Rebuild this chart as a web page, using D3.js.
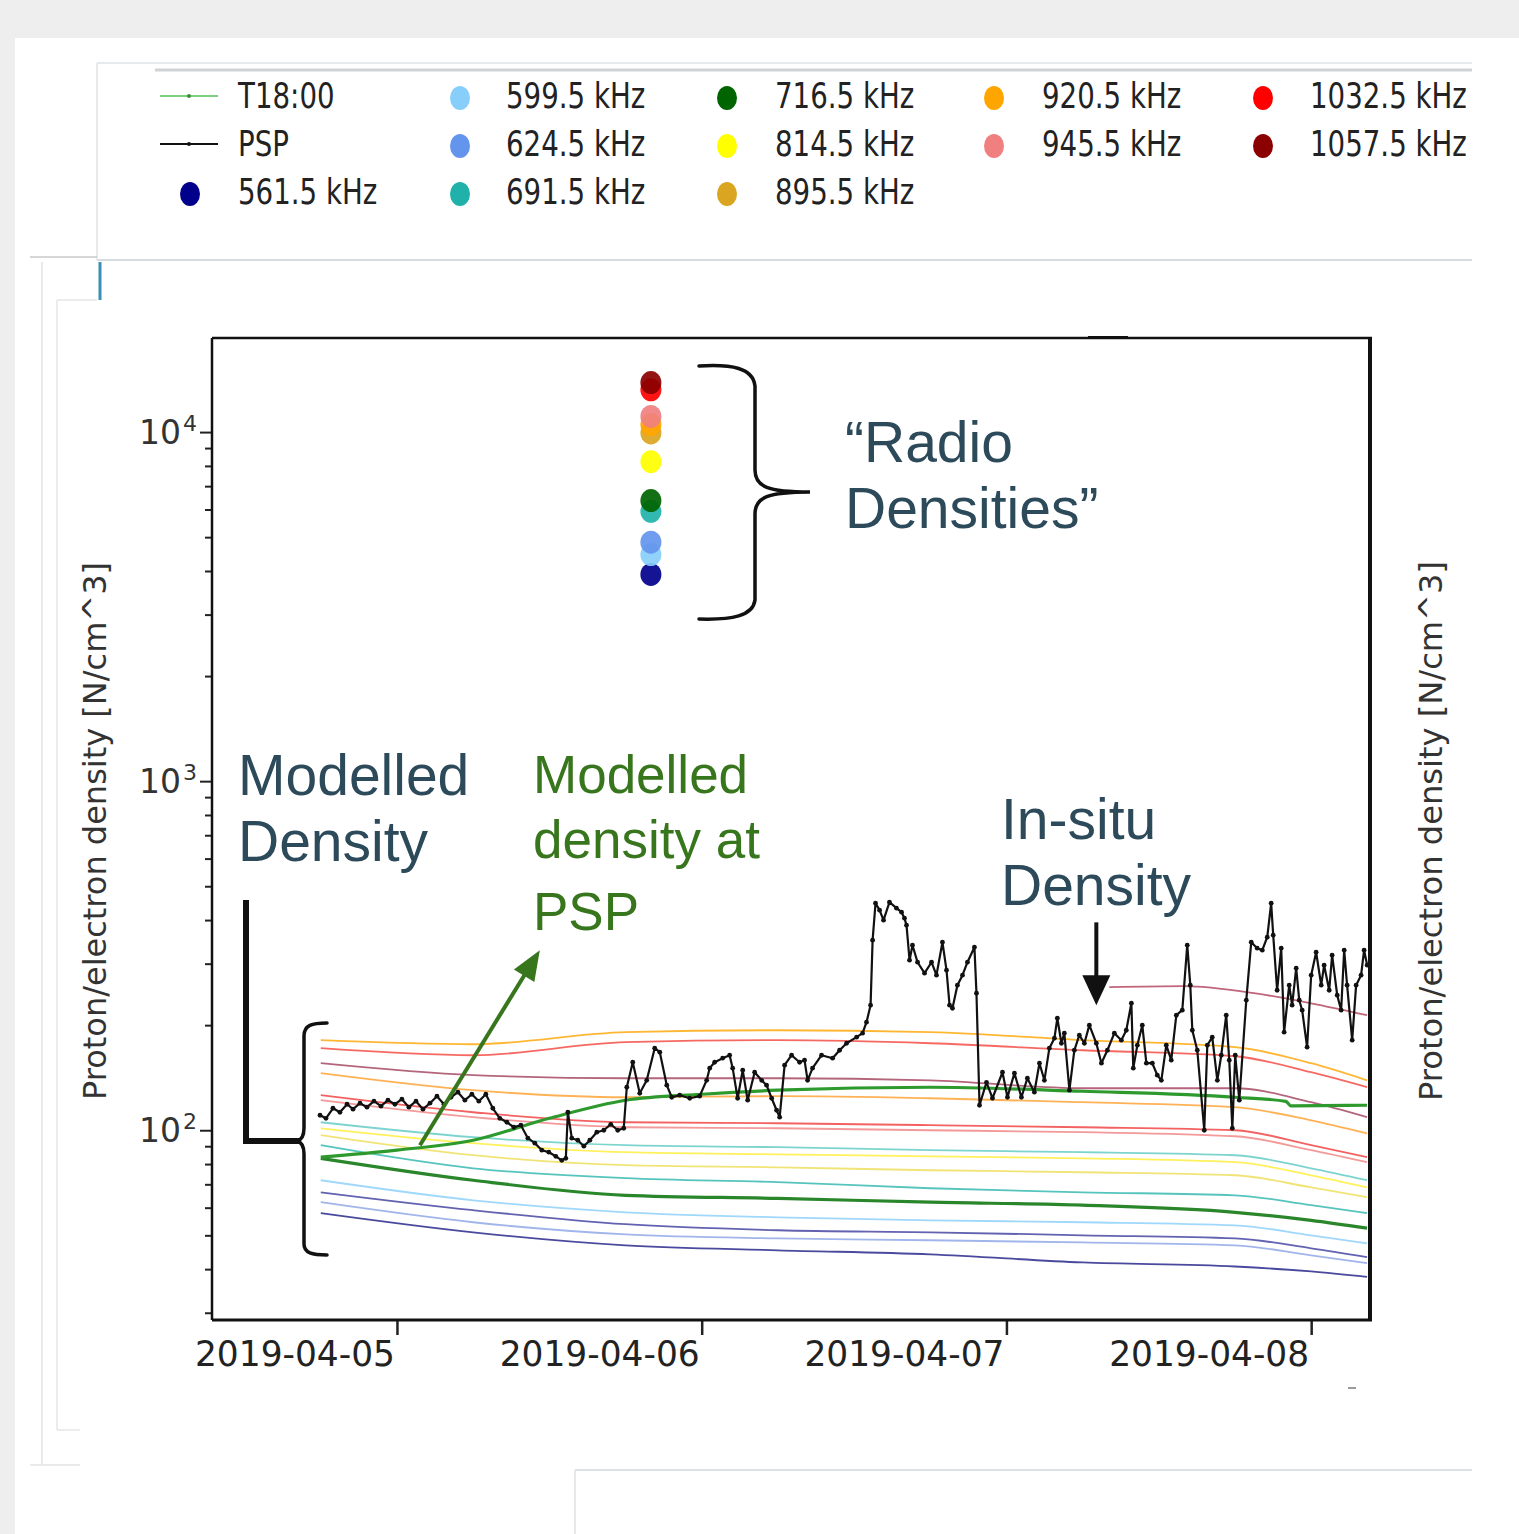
<!DOCTYPE html>
<html>
<head>
<meta charset="utf-8">
<title>Proton/electron density – radio, modelled and in-situ</title>
<script src="https://cdn.jsdelivr.net/npm/d3@7"></script>
<style>
  html, body { margin: 0; padding: 0; background: #eeeeee; }
  svg { display: block; }
</style>
</head>
<body>
<svg id="chart" width="1519" height="1534"></svg>
<script>
// ---------------------------------------------------------------------------
// Data
// ---------------------------------------------------------------------------

// Radio frequencies (legend order) and their colours
const freqLabels = ["561.5 kHz", "599.5 kHz", "624.5 kHz", "691.5 kHz", "716.5 kHz",
  "814.5 kHz", "895.5 kHz", "920.5 kHz", "945.5 kHz", "1032.5 kHz", "1057.5 kHz"];
const freqColors = ["#00008b", "#87cefa", "#6495ed", "#20b2aa", "#006400",
  "#ffff00", "#daa520", "#ffa500", "#f08080", "#ff0000", "#8b0000"];

// "Radio densities" (cm^-3), one per frequency, observed at 2019-04-05 20:00
const radioHour = 20;
const radioDensity = [3910, 4457, 4836, 5930, 6366, 8227, 9944, 10507, 11086, 13220, 13868];

// Modelled density profiles: knot times in hours after 2019-04-05 00:00
const modelHours = [-6, 6, 18, 30, 42, 54, 66, 72, 76.4];
const modelColors = ["#ffa500", "#f4433c", "#a0405a", "#ff9f2a", "#f03a3a", "#f08080",
  "#5cc9c2", "#ffee33", "#eedd55", "#2bb5ac", "#1f7f1f", "#87cefa", "#3b3b9e", "#8aa2e6", "#1c1c85"];
const modelValues = [
  [181.1, 176.3, 190.9, 193.4, 190.9, 181.1, 172.9, 155.6, 139.0],
  [171.8, 164.0, 178.7, 181.1, 177.5, 169.5, 162.9, 146.6, 132.8],
  [155.6, 143.8, 140.9, 140.9, 139.0, 131.9, 131.9, 120.3, 109.0],
  [145.7, 130.2, 124.3, 125.2, 123.5, 120.3, 116.4, 106.8, 98.0],
  [126.0, 112.6, 105.4, 104.7, 103.4, 102.0, 100.0, 90.6, 83.7],
  [121.9, 109.0, 102.0, 101.3, 100.0, 98.7, 96.1, 87.7, 81.0],
  [105.4, 95.5, 90.6, 89.4, 87.7, 86.5, 84.8, 77.8, 71.9],
  [101.3, 91.8, 86.5, 85.3, 84.2, 83.1, 81.0, 74.3, 68.6],
  [96.8, 84.8, 79.4, 78.3, 76.8, 75.8, 74.3, 68.6, 64.3],
  [90.6, 77.8, 72.9, 71.0, 68.2, 66.4, 65.1, 61.0, 57.9],
  [83.1, 71.9, 65.1, 63.8, 62.2, 61.0, 58.2, 55.2, 52.4],
  [71.9, 63.0, 58.2, 56.3, 55.2, 54.5, 53.4, 50.0, 47.4],
  [66.4, 59.0, 53.8, 51.7, 51.0, 50.0, 49.0, 45.9, 43.3],
  [62.2, 54.5, 50.3, 49.0, 48.4, 47.7, 46.8, 43.8, 41.6],
  [57.9, 51.0, 46.8, 45.3, 44.1, 41.8, 40.7, 39.4, 38.0]
];

// Late-starting profile
const lateHours = [56.1, 62, 67.5, 72, 76.4];
const lateValues = [256.9, 258.6, 247.0, 231.0, 213.6];

// Modelled density at the spacecraft (T18:00)
const pspModelHours = [-6, 0, 6, 12, 18, 24, 30, 42, 54, 66, 70, 70.4, 76.4];
const pspModelValues = [83.7, 87.7, 93.6, 108.2, 121.9, 126.8, 130.2, 132.8, 129.3, 124.3, 121.0, 117.5, 117.9];

// In-situ density measured by PSP
const pspHours = [
  -6.06, -5.59, -5.04, -4.49, -3.93, -3.46, -2.91, -2.36, -1.81, -1.26, -0.71, -0.16,
  0.39, 0.94, 1.50, 2.05, 2.60, 3.15, 3.70, 4.25, 4.80, 5.35, 5.90, 6.45,
  7.00, 7.55, 8.10, 8.66, 9.21, 9.76, 10.31, 10.86, 11.41, 11.96, 12.51, 12.98,
  13.30, 13.46, 13.77, 14.24, 14.72, 15.19, 15.74, 16.29, 16.84, 17.39, 17.86, 18.10,
  18.57, 19.12, 19.67, 20.30, 20.70, 21.25, 21.64, 22.27, 23.06, 23.84, 24.39, 24.63,
  25.02, 25.65, 26.20, 26.44, 26.83, 27.23, 27.62, 28.17, 28.72, 29.11, 29.51, 29.90,
  30.14, 30.53, 31.08, 31.71, 32.10, 32.34, 32.73, 33.44, 34.31, 34.86, 35.41, 36.20,
  36.67, 36.98, 37.30, 37.46, 37.69, 38.01, 38.32, 38.79, 39.34, 39.74, 39.97, 40.13,
  40.37, 40.60, 41.00, 41.55, 42.10, 42.49, 42.96, 43.28, 43.52, 43.75, 44.14, 44.54,
  44.93, 45.48, 45.64, 45.88, 46.43, 46.90, 47.69, 48.08, 48.63, 49.18, 49.65, 50.20,
  50.60, 50.99, 51.38, 51.78, 52.01, 52.33, 52.56, 52.96, 53.35, 53.74, 54.14, 54.53,
  55.08, 55.48, 55.95, 56.50, 57.05, 57.44, 57.84, 57.99, 58.31, 58.70, 59.02, 59.49,
  59.88, 60.20, 60.59, 60.98, 61.38, 61.85, 62.24, 62.48, 62.64, 63.03, 63.58, 63.82,
  64.21, 64.61, 64.92, 65.31, 65.55, 65.79, 66.02, 66.34, 66.89, 67.28, 67.75, 68.15,
  68.54, 68.85, 69.01, 69.32, 69.64, 69.87, 70.27, 70.50, 70.82, 71.06, 71.29, 71.68,
  72.00, 72.39, 72.79, 73.02, 73.42, 73.65, 74.05, 74.36, 74.60, 74.83, 75.23, 75.54,
  75.93, 76.17, 76.41
];
const pspDensity = [
  110.4, 108.2, 115.6, 112.6, 118.7, 114.9, 119.5, 116.4, 121.1, 117.2, 121.9, 118.7,
  122.7, 116.4, 121.1, 114.9, 119.5, 125.2, 118.7, 124.3, 128.5, 121.9, 126.8, 121.1,
  126.8, 115.6, 108.2, 105.4, 102.0, 103.4, 94.9, 91.8, 87.7, 86.5, 84.2, 82.0,
  83.1, 112.6, 94.9, 93.6, 90.0, 93.6, 98.7, 100.0, 104.0, 100.0, 101.3, 132.8,
  156.6, 127.6, 139.0, 171.8, 167.3, 134.6, 124.3, 126.0, 123.5, 125.2, 139.0, 150.6,
  156.6, 160.8, 164.0, 150.6, 123.5, 148.6, 121.9, 146.6, 139.0, 134.6, 123.5, 114.1,
  109.0, 153.6, 164.0, 156.6, 158.7, 139.0, 150.6, 164.0, 160.8, 169.5, 177.5, 184.8,
  189.7, 203.9, 228.2, 350.3, 447.0, 427.0, 399.7, 450.1, 432.6, 421.4, 405.0, 386.8,
  307.0, 338.9, 302.9, 281.8, 302.9, 278.1, 345.7, 287.4, 228.2, 223.6, 260.3, 278.1,
  302.9, 334.5, 247.0, 117.9, 137.2, 123.5, 146.6, 124.3, 145.7, 124.3, 140.9, 128.5,
  155.6, 139.0, 171.8, 183.5, 209.4, 177.5, 189.7, 130.2, 169.5, 187.2, 177.5, 200.0,
  177.5, 155.6, 169.5, 189.7, 181.1, 193.4, 231.2, 150.6, 175.2, 200.0, 155.6, 155.6,
  143.8, 139.0, 175.2, 158.7, 213.6, 220.7, 338.9, 260.3, 193.4, 169.5, 100.0, 175.2,
  184.8, 139.0, 164.0, 213.6, 158.7, 101.3, 164.0, 121.9, 235.8, 345.7, 332.3, 328.0,
  357.3, 447.0, 362.1, 251.8, 332.3, 190.9, 260.3, 228.2, 291.2, 235.8, 220.7, 172.9,
  278.1, 323.6, 260.3, 297.0, 251.8, 317.2, 243.7, 220.7, 328.0, 260.3, 181.1, 260.3,
  278.1, 328.0, 297.0
];

// Axis ticks
const yMajorTicks = [100, 1000, 10000];
const yMajorExp = ["2", "3", "4"];
const xTickDays = ["2019-04-05", "2019-04-06", "2019-04-07", "2019-04-08"];
const yLabel = "Proton/electron density [N/cm^3]";

// ---------------------------------------------------------------------------
// Scales
// ---------------------------------------------------------------------------
const W = 1519, H = 1534;
const plot = { left: 212, right: 1370, top: 338, bottom: 1320 };
const t0 = Date.UTC(2019, 3, 5);
const toDate = h => new Date(t0 + h * 3600000);

const x = d3.scaleUtc()
  .domain([new Date(Date.UTC(2019, 3, 4, 9, 26)), new Date(Date.UTC(2019, 3, 8, 4, 38))])
  .range([plot.left, plot.right]);
const y = d3.scaleLog().domain([28.6, 18600]).range([plot.bottom, plot.top]);

const svg = d3.select("#chart");
const AXIS_FONT = "'DejaVu Sans', sans-serif";
const NOTE_FONT = "'Liberation Sans', Arial, Helvetica, sans-serif";

// squeeze a text element horizontally by a factor
function squeeze(sel, factor) {
  sel.each(function () {
    const len = this.getComputedTextLength();
    d3.select(this).attr("textLength", len * factor).attr("lengthAdjust", "spacingAndGlyphs");
  });
  return sel;
}
function fitTo(sel, width) {
  sel.attr("textLength", width).attr("lengthAdjust", "spacingAndGlyphs");
  return sel;
}

// ---------------------------------------------------------------------------
// Page panels and frame lines
// ---------------------------------------------------------------------------
svg.append("rect").attr("width", W).attr("height", H).attr("fill", "#eeeeee");
svg.append("rect").attr("x", 15).attr("y", 38).attr("width", W - 15).attr("height", H - 38).attr("fill", "#ffffff");

const deco = svg.append("g").attr("fill", "none");
const segs = [
  [97, 63, 1472, 63, "#dfe3e6", 1.5],
  [155, 70, 1472, 70, "#cfd3d6", 3],
  [97, 63, 97, 260, "#dfe3e6", 1.5],
  [97, 260, 1472, 260, "#d6dde2", 2],
  [30, 257, 97, 257, "#c9c9c9", 1.5],
  [42, 262, 42, 1465, "#e3e3e3", 1.5],
  [30, 1465, 80, 1465, "#e3e3e3", 1.5],
  [57, 300, 57, 1430, "#e6e6e6", 1.5],
  [57, 300, 97, 300, "#e6e6e6", 1.5],
  [57, 1430, 80, 1430, "#e6e6e6", 1.5],
  [575, 1470, 1472, 1470, "#dde2e6", 2],
  [575, 1470, 575, 1534, "#dde2e6", 1.5]
];
segs.forEach(s => deco.append("line")
  .attr("x1", s[0]).attr("y1", s[1]).attr("x2", s[2]).attr("y2", s[3])
  .attr("stroke", s[4]).attr("stroke-width", s[5]));
deco.append("line").attr("x1", 100).attr("y1", 262).attr("x2", 100).attr("y2", 300)
  .attr("stroke", "#3a8fb7").attr("stroke-width", 3);
deco.append("rect").attr("x", 1348).attr("y", 1387).attr("width", 8).attr("height", 2).attr("fill", "#9a9a9a");

// ---------------------------------------------------------------------------
// Legend
// ---------------------------------------------------------------------------
const legendItems = [
  { label: "T18:00", kind: "line", color: "#7ccf7c", dot: "#3b8e3b" },
  { label: "PSP", kind: "line", color: "#111111", dot: "#111111" }
].concat(freqLabels.map((l, i) => ({ label: l, kind: "dot", color: freqColors[i] })));
const legendColSizes = [3, 3, 3, 2, 2];
const legendColMarkX = [189, 459, 726, 993, 1262];
const legendColTextX = [238, 506, 775, 1042, 1310];
const legendRowY = [96, 144, 192];

const legend = svg.append("g");
let idx = 0;
legendColSizes.forEach((n, c) => {
  for (let r = 0; r < n; r++, idx++) {
    const it = legendItems[idx];
    const cy = legendRowY[r];
    if (it.kind === "line") {
      legend.append("line").attr("x1", legendColMarkX[c] - 29).attr("x2", legendColMarkX[c] + 29)
        .attr("y1", cy).attr("y2", cy).attr("stroke", it.color).attr("stroke-width", 2);
      legend.append("circle").attr("cx", legendColMarkX[c]).attr("cy", cy).attr("r", 2).attr("fill", it.dot);
    } else {
      legend.append("ellipse").attr("cx", legendColMarkX[c] + 1).attr("cy", cy + 2)
        .attr("rx", 10).attr("ry", 12).attr("fill", it.color);
    }
    legend.append("text").attr("x", legendColTextX[c]).attr("y", cy + 12)
      .attr("font-family", AXIS_FONT).attr("font-size", 35).attr("fill", "#222")
      .text(it.label).call(squeeze, 0.79);
  }
});

// ---------------------------------------------------------------------------
// Axes
// ---------------------------------------------------------------------------
const yMinor = [];
[10, 100, 1000, 10000].forEach(d => {
  for (let k = 2; k <= 9; k++) {
    const v = d * k;
    if (v > y.domain()[0] && v < y.domain()[1]) yMinor.push(v);
  }
});

const yAxisMajor = svg.append("g").attr("transform", `translate(${plot.left},0)`)
  .call(d3.axisLeft(y).tickValues(yMajorTicks).tickSize(12).tickSizeOuter(0).tickFormat(""));
const yAxisMinor = svg.append("g").attr("transform", `translate(${plot.left},0)`)
  .call(d3.axisLeft(y).tickValues(yMinor).tickSize(7).tickSizeOuter(0).tickFormat(""));
[yAxisMajor, yAxisMinor].forEach(g => {
  g.select(".domain").remove();
  g.selectAll(".tick line").attr("stroke", "#222").attr("stroke-width", 2);
});

yMajorTicks.forEach((v, i) => {
  const tx = svg.append("text").attr("x", 197).attr("y", y(v) + 12)
    .attr("text-anchor", "end").attr("font-family", AXIS_FONT).attr("font-size", 33).attr("fill", "#333");
  tx.append("tspan").text("10");
  tx.append("tspan").attr("font-size", 22).attr("dy", -13).attr("dx", 2).text(yMajorExp[i]);
});

const xTicks = xTickDays.map(d => new Date(d + "T00:00:00Z"));
const xAxis = svg.append("g").attr("transform", `translate(0,${plot.bottom})`)
  .call(d3.axisBottom(x).tickValues(xTicks).tickSize(15).tickSizeOuter(0).tickFormat(""));
xAxis.select(".domain").remove();
xAxis.selectAll(".tick line").attr("stroke", "#222").attr("stroke-width", 2.5);

xTicks.forEach((d, i) => {
  svg.append("text").attr("x", x(d) - 2).attr("y", 1366).attr("text-anchor", "end")
    .attr("font-family", AXIS_FONT).attr("font-size", 35).attr("fill", "#222")
    .text(xTickDays[i]).call(fitTo, 200);
});

// axis titles
svg.append("text").attr("transform", "translate(106,831) rotate(-90)").attr("text-anchor", "middle")
  .attr("font-family", AXIS_FONT).attr("font-size", 32).attr("fill", "#333")
  .text(yLabel).call(fitTo, 538);
svg.append("text").attr("transform", "translate(1442,831) rotate(-90)").attr("text-anchor", "middle")
  .attr("font-family", AXIS_FONT).attr("font-size", 32).attr("fill", "#333")
  .text(yLabel).call(fitTo, 540);

// ---------------------------------------------------------------------------
// Series
// ---------------------------------------------------------------------------
const series = svg.append("g");
const smooth = d3.line().curve(d3.curveMonotoneX).x(d => x(toDate(d[0]))).y(d => y(d[1]));

modelValues.forEach((vals, i) => {
  const thick = modelColors[i] === "#1f7f1f";
  series.append("path")
    .attr("d", smooth(d3.zip(modelHours, vals)))
    .attr("fill", "none").attr("stroke", modelColors[i])
    .attr("stroke-width", thick ? 3.2 : 1.8).attr("stroke-opacity", thick ? 0.95 : 0.8);
});
series.append("path").attr("d", smooth(d3.zip(lateHours, lateValues)))
  .attr("fill", "none").attr("stroke", "#b0405a").attr("stroke-width", 1.8).attr("stroke-opacity", 0.8);

series.append("path").attr("d", smooth(d3.zip(pspModelHours, pspModelValues)))
  .attr("fill", "none").attr("stroke", "#2e9a2e").attr("stroke-width", 3.2);

const pspData = d3.zip(pspHours, pspDensity);
series.append("path")
  .attr("d", d3.line().x(d => x(toDate(d[0]))).y(d => y(d[1]))(pspData))
  .attr("fill", "none").attr("stroke", "#111").attr("stroke-width", 2.2).attr("stroke-linejoin", "round");
series.selectAll("circle.psp").data(pspData).join("circle").attr("class", "psp")
  .attr("cx", d => x(toDate(d[0]))).attr("cy", d => y(d[1])).attr("r", 2.4).attr("fill", "#111");

// radio densities, drawn low to high frequency
series.selectAll("ellipse.radio").data(radioDensity).join("ellipse").attr("class", "radio")
  .attr("cx", x(toDate(radioHour))).attr("cy", d => y(d))
  .attr("rx", 10.5).attr("ry", 11.5).attr("fill", (d, i) => freqColors[i]).attr("fill-opacity", 0.92);

// plot frame
const frame = svg.append("g").attr("stroke", "#111").attr("fill", "none");
frame.append("line").attr("x1", plot.left).attr("x2", plot.right + 2).attr("y1", plot.top).attr("y2", plot.top).attr("stroke-width", 2.5);
frame.append("line").attr("x1", 1088).attr("x2", 1128).attr("y1", plot.top - 1).attr("y2", plot.top - 1).attr("stroke-width", 2);
frame.append("line").attr("x1", plot.left).attr("x2", plot.left).attr("y1", plot.top).attr("y2", plot.bottom).attr("stroke-width", 2.5);
frame.append("line").attr("x1", plot.left).attr("x2", plot.right + 2).attr("y1", plot.bottom).attr("y2", plot.bottom).attr("stroke-width", 3);
frame.append("line").attr("x1", plot.right).attr("x2", plot.right).attr("y1", plot.top).attr("y2", plot.bottom + 1).attr("stroke-width", 4);

// ---------------------------------------------------------------------------
// Annotations
// ---------------------------------------------------------------------------
const notes = svg.append("g");
const SLATE = "#2c4a5a", GREEN = "#38761d";

function noteText(lines, x0, baselines, size, color) {
  lines.forEach((s, i) => notes.append("text").attr("x", x0).attr("y", baselines[i])
    .attr("font-family", NOTE_FONT).attr("font-size", size).attr("fill", color).text(s));
}
noteText(["\u201CRadio", "Densities\u201D"], 845, [462, 528], 57, SLATE);
noteText(["Modelled", "Density"], 238, [795, 861], 57, SLATE);
noteText(["Modelled", "density at", "PSP"], 533, [793, 858, 930], 53, GREEN);
noteText(["In-situ", "Density"], 1001, [839, 905], 57, SLATE);

function arrow(x1, y1, x2, y2, color, width, headLen, headHalf) {
  const dx = x2 - x1, dy = y2 - y1, L = Math.hypot(dx, dy);
  const ux = dx / L, uy = dy / L, px = -uy, py = ux;
  const bx = x2 - ux * headLen, by = y2 - uy * headLen;
  notes.append("line").attr("x1", x1).attr("y1", y1).attr("x2", bx + ux * 2).attr("y2", by + uy * 2)
    .attr("stroke", color).attr("stroke-width", width);
  notes.append("path")
    .attr("d", `M${x2},${y2}L${bx + px * headHalf},${by + py * headHalf}L${bx - px * headHalf},${by - py * headHalf}Z`)
    .attr("fill", color);
}
// arrow onto the in-situ trace
arrow(x(toDate(55.08)), y(394), x(toDate(55.08)), y(228), "#111", 4, 30, 14);
// arrow from the modelled PSP density curve to its label
arrow(x(toDate(1.81)), y(90.6), x(toDate(11.25)), y(328), GREEN, 4, 30, 12);

// braces
const brace = svg.append("g").attr("fill", "none").attr("stroke", "#111").attr("stroke-linecap", "round");
brace.append("path").attr("stroke-width", 3.5)
  .attr("d", "M699,366 C732,364 753,368 755,386 L755,470 C755,487 768,492 810,492 C768,492 755,497 755,514 L755,600 C753,616 732,620 699,619");
brace.append("path").attr("stroke-width", 3.5)
  .attr("d", "M327,1023 C312,1023 304,1025 304,1036 L304,1128 C304,1136 301,1140 297,1141 C301,1142 304,1146 304,1154 L304,1244 C304,1253 312,1255 327,1255");
brace.append("path").attr("stroke-width", 6).attr("stroke-linecap", "butt")
  .attr("d", "M246,900 L246,1141 L299,1141");
</script>
</body>
</html>
